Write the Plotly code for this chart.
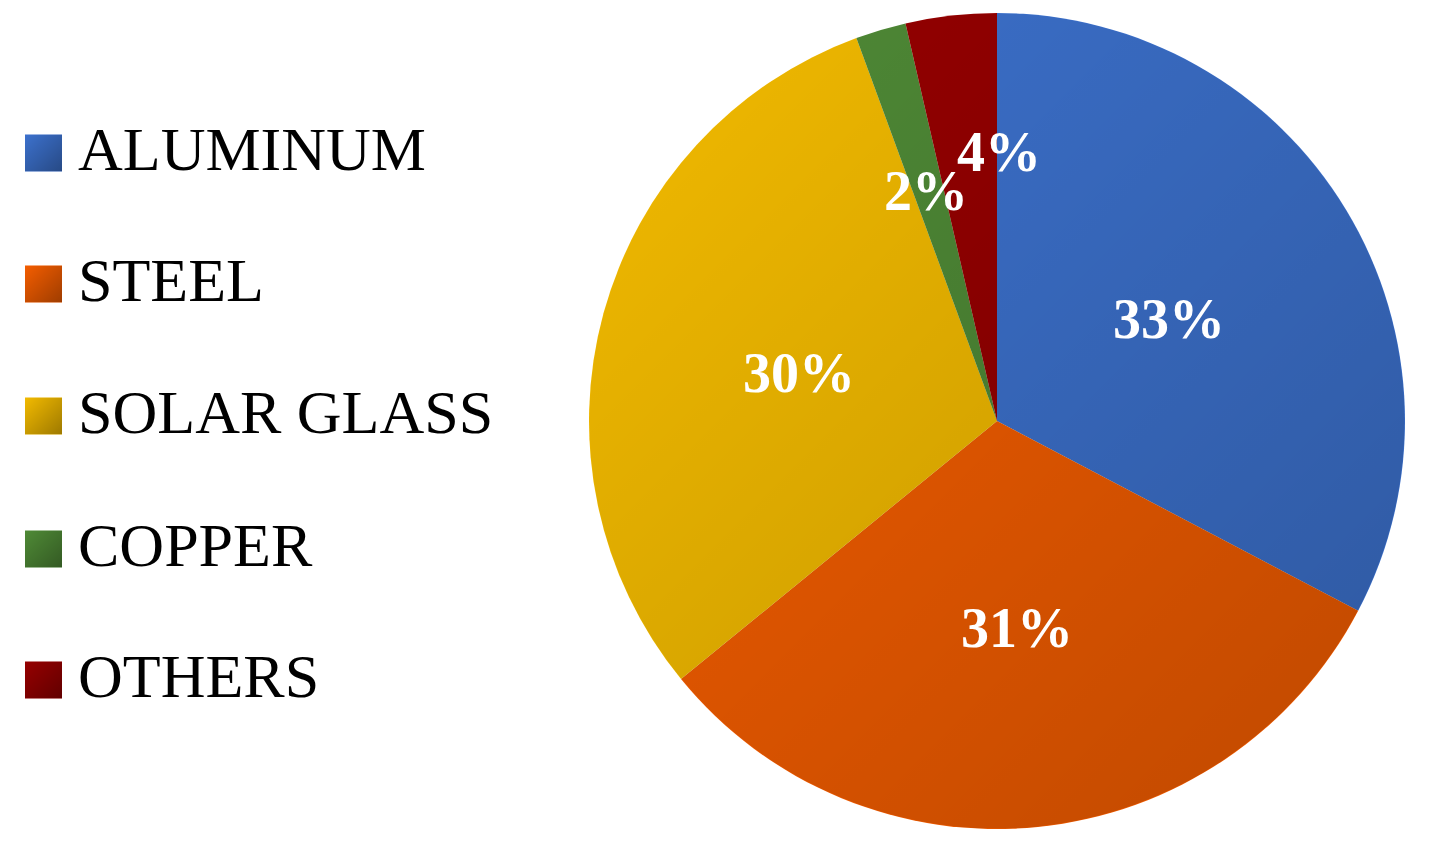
import base64
import math
import plotly.graph_objects as go

W, H = 1435, 862

categories = ["ALUMINUM", "STEEL", "SOLAR GLASS", "COPPER", "OTHERS"]
values = [32.7, 31.4, 30.3, 2.0, 3.6]
colors = ["#3C71CD", "#F45D00", "#F2BA00", "#4F8A36", "#960000"]

# label placement (fraction of radius, angular nudge in degrees)
label_rfrac = [0.49, 0.51, 0.50, 0.59, 0.66]
label_nudge = [0.5, 0.3, -1.6, -0.6, 7.0]

FONT = "Liberation Serif"

# pie geometry in pixels
CX, CY, R = 997, 421, 408

fig = go.Figure()
fig.add_trace(go.Pie(
    labels=categories,
    values=values,
    sort=False,
    direction="clockwise",
    rotation=0,
    marker=dict(colors=colors, line=dict(width=0)),
    textinfo="none",
    domain=dict(x=[(CX - R) / W, (CX + R) / W], y=[1 - (CY + R) / H, 1 - (CY - R) / H]),
    showlegend=False,
    hoverinfo="label+percent",
))

# soft diagonal shading over the pie
svg_circle = (
    '<svg xmlns="http://www.w3.org/2000/svg" width="200" height="200" viewBox="0 0 200 200">'
    '<defs><linearGradient id="g" x1="0" y1="0" x2="1" y2="1">'
    '<stop offset="0" stop-color="#000" stop-opacity="0"/>'
    '<stop offset="1" stop-color="#000" stop-opacity="0.22"/>'
    '</linearGradient></defs>'
    '<circle cx="100" cy="100" r="99.9" fill="url(#g)"/></svg>'
)
svg_rect = (
    '<svg xmlns="http://www.w3.org/2000/svg" width="40" height="40" viewBox="0 0 40 40">'
    '<defs><linearGradient id="g" x1="0" y1="0" x2="1" y2="1">'
    '<stop offset="0" stop-color="#000" stop-opacity="0"/>'
    '<stop offset="1" stop-color="#000" stop-opacity="0.35"/>'
    '</linearGradient></defs>'
    '<rect x="0" y="0" width="40" height="40" fill="url(#g)"/></svg>'
)


def data_uri(svg):
    return "data:image/svg+xml;base64," + base64.b64encode(svg.encode()).decode()


images = [dict(source=data_uri(svg_circle), xref="paper", yref="paper",
               x=(CX - R) / W, y=1 - (CY - R) / H, sizex=2 * R / W, sizey=2 * R / H,
               xanchor="left", yanchor="top", sizing="stretch", layer="above")]

# percentage labels
total = sum(values)
cum = 0.0
for v, rf, nd in zip(values, label_rfrac, label_nudge):
    mid = (cum + v / 2) / total * 360 + nd
    cum += v
    lx = CX + rf * R * math.sin(math.radians(mid))
    ly = CY - rf * R * math.cos(math.radians(mid))
    fig.add_annotation(text=f"{round(v / total * 100)}%", xref="paper", yref="paper",
                       x=lx / W, y=1 - ly / H, xanchor="center", yanchor="middle",
                       showarrow=False,
                       font=dict(family=FONT, size=56, color="white", weight="bold"))

# manual legend
row_y = [153, 284, 416, 549, 680]
SQ = 37
for cat, col, yc in zip(categories, colors, row_y):
    fig.add_shape(type="rect", xref="paper", yref="paper",
                  x0=25 / W, x1=(25 + SQ) / W,
                  y0=1 - (yc + SQ / 2) / H, y1=1 - (yc - SQ / 2) / H,
                  fillcolor=col, line=dict(width=0), layer="below")
    images.append(dict(source=data_uri(svg_rect), xref="paper", yref="paper",
                       x=25 / W, y=1 - (yc - SQ / 2) / H, sizex=SQ / W, sizey=SQ / H,
                       xanchor="left", yanchor="top", sizing="stretch", layer="above"))
    fig.add_annotation(text=cat, xref="paper", yref="paper",
                       x=76 / W, y=1 - (yc - 4) / H,
                       xanchor="left", yanchor="middle", showarrow=False,
                       font=dict(family=FONT, size=62, color="black"))

fig.update_layout(
    width=W, height=H,
    margin=dict(l=0, r=0, t=0, b=0),
    paper_bgcolor="white", plot_bgcolor="white",
    images=images,
    xaxis=dict(visible=False), yaxis=dict(visible=False),
)

fig.write_html("out.html", config={"displayModeBar": False},
               post_script="document.body.style.margin='0px';")
